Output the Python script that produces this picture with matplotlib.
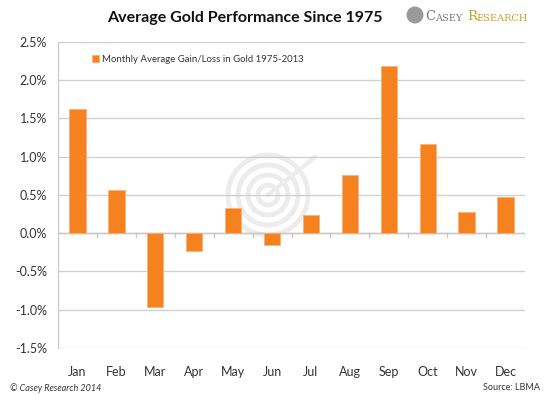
import matplotlib.pyplot as plt
from matplotlib.patches import Circle

months = ['Jan', 'Feb', 'Mar', 'Apr', 'May', 'Jun', 'Jul', 'Aug', 'Sep', 'Oct', 'Nov', 'Dec']
gain = [1.62, 0.56, -0.96, -0.23, 0.33, -0.16, 0.24, 0.76, 2.18, 1.16, 0.28, 0.47]
yticks = [-1.5, -1.0, -0.5, 0.0, 0.5, 1.0, 1.5, 2.0, 2.5]

plt.rcParams['font.family'] = ['Lato', 'DejaVu Sans']

fig = plt.figure(figsize=(5.5, 3.95), dpi=100)
ax = fig.add_axes([0.1055, 0.119, 0.849, 0.775])
ax.set_facecolor('none')

# faint watermark behind the bars (inch coordinates so circles stay round)
for r in [0.40, 0.30, 0.20, 0.10]:
    fig.patches.append(Circle((2.68, 2.0), r, transform=fig.dpi_scale_trans, fill=False,
                              ec='#ececec', lw=3.5, zorder=-1))
fig.lines.append(plt.Line2D([2.68, 3.15], [2.0, 2.38], transform=fig.dpi_scale_trans,
                            color='#ececec', lw=3, zorder=-1))

x = range(len(months))
ax.bar(x, gain, width=0.42, color='#f5821f', ec='#f9b27a', lw=0.6, zorder=3,
       label='Monthly Average Gain/Loss in Gold 1975-2013')

ax.set_ylim(-1.5, 2.5)
ax.set_xlim(-0.5, 11.5)
ax.set_yticks(yticks)
ax.set_yticklabels([f'{v:.1f}%' for v in yticks], fontsize=9, color='#333333')
ax.yaxis.grid(True, color='#d0d0d0', lw=1, zorder=0)
ax.tick_params(axis='y', length=0, pad=8)
ax.set_xticks(list(x))
ax.set_xticklabels(months, fontsize=9, color='#333333')
ax.tick_params(axis='x', length=0, pad=13)

# zero line with small tick marks between categories
ax.axhline(0, color='#c8c8c8', lw=1, zorder=2)
for i in range(12):
    ax.plot([i + 0.5, i + 0.5], [0, -0.05], color='#c8c8c8', lw=1, zorder=2)

for s in ['top', 'right', 'bottom']:
    ax.spines[s].set_visible(False)
ax.spines['left'].set_color('#c8c8c8')

leg = ax.legend(loc='center left', bbox_to_anchor=(0.055, 0.942), frameon=False,
                fontsize=6.9, handlelength=0.65, handleheight=0.75, handletextpad=0.4)
for t in leg.get_texts():
    t.set_color('#333333')

fig.text(0.445, 0.955, 'Average Gold Performance Since 1975', ha='center', va='center',
         fontsize=11.5, fontweight='bold', color='#111111')

# logo, pieces chained one after another
fig.patches.append(Circle((4.15, 3.80), 0.085, transform=fig.dpi_scale_trans,
                          fc='#9a9a9a', ec='none'))
prev = fig.text(0.773, 0.958, 'C', fontsize=9.5, family='DejaVu Serif', color='#7a7a7a',
                va='center')
for txt, size, col, gap in [('ASEY', 7, '#7a7a7a', 0), ('R', 9.5, '#c9a227', 3),
                            ('ESEARCH', 7, '#c9a227', 0)]:
    prev = plt.annotate(txt, xy=(1, 0), xycoords=prev, xytext=(gap, 0),
                        textcoords='offset points', fontsize=size, family='DejaVu Serif',
                        color=col, va='bottom', annotation_clip=False)

fig.text(0.018, 0.018, '© Casey Research 2014', fontsize=6.5, style='italic',
         color='#333333', va='center')
fig.text(0.982, 0.018, 'Source: LBMA', fontsize=6.5, color='#333333', va='center', ha='right')

fig.savefig('out.png', dpi=100)
